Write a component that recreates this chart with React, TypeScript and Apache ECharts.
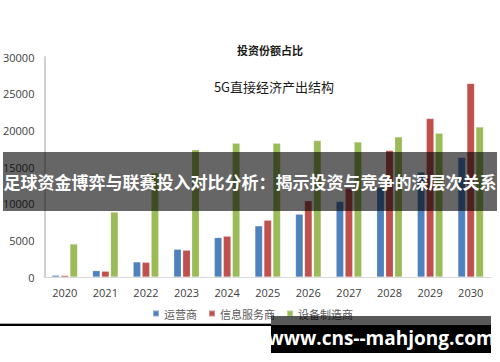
import React, { useEffect, useRef } from "react";
import * as echarts from "echarts";

const years = ["2020", "2021", "2022", "2023", "2024", "2025", "2026", "2027", "2028", "2029", "2030"];
const operators = [230, 860, 2050, 3780, 5370, 6970, 8560, 10300, 12200, 14300, 16300];
const infoServices = [200, 780, 2000, 3650, 5560, 7740, 10400, 12100, 17250, 21600, 26400];
const equipment = [4500, 8850, 14200, 17350, 18250, 18250, 18600, 18400, 19100, 19600, 20450];
const seriesNames = ["运营商", "信息服务商", "设备制造商"];
const colors = ["#4f81bd", "#c0504d", "#9bbb59"];

export default function App() {
  const ref = useRef<HTMLDivElement>(null);
  useEffect(() => {
    if (!ref.current) return;
    const chart = echarts.init(ref.current, null, { renderer: "svg" });
    const dataSets = [operators, infoServices, equipment];
    chart.setOption({
      animation: false,
      backgroundColor: "#ffffff",
      title: [
        {
          text: "投资份额占比",
          left: 265,
          top: 39,
          textAlign: "center",
          textStyle: { fontSize: 11, fontWeight: "bold", color: "#1a1a1a", fontFamily: "Noto Sans CJK SC" },
        },
        {
          text: "5G直接经济产出结构",
          left: 269,
          top: 75,
          textAlign: "center",
          textStyle: { fontSize: 13, fontWeight: "normal", color: "#1a1a1a", fontFamily: "Noto Sans CJK SC" },
        },
      ],
      legend: {
        data: seriesNames,
        left: 152,
        top: 308,
        padding: 0,
        itemWidth: 6,
        itemHeight: 6,
        itemGap: 11,
        icon: "rect",
        textStyle: { fontSize: 11, color: "#595959", fontFamily: "Noto Sans CJK SC" },
      },
      grid: { left: 42, right: 9, top: 57, bottom: 85, containLabel: false },
      xAxis: {
        type: "category",
        data: years,
        axisLine: { lineStyle: { color: "#d9d9d9", width: 1 } },
        axisTick: { show: false },
        axisLabel: { fontSize: 11, color: "#404040", margin: 10, fontFamily: "Open Sans" },
      },
      yAxis: {
        type: "value",
        min: 0,
        max: 30000,
        interval: 5000,
        axisLine: { show: true, lineStyle: { color: "#d0d0d0", width: 2 } },
        axisTick: { show: false },
        splitLine: { show: false },
        axisLabel: {
          fontSize: 11,
          color: "#404040",
          margin: 10,
          fontFamily: "Open Sans",
          formatter: (v: number) => String(v),
        },
      },
      series: dataSets.map((d, i) => ({
        name: seriesNames[i],
        type: "bar",
        data: d,
        barWidth: 7.5,
        barGap: "20%",
        itemStyle: { color: colors[i], borderColor: "rgba(255,255,255,0.35)", borderWidth: 0.5 },
      })),
      graphic: [
        {
          type: "rect",
          z: 100,
          shape: { x: 3, y: 152, width: 494, height: 59 },
          style: { fill: "rgba(0,0,0,0.6)" },
        },
        {
          type: "text",
          z: 101,
          x: 250,
          y: 181,
          style: {
            text: "足球资金博弈与联赛投入对比分析：揭示投资与竞争的深层次关系",
            fill: "#ffffff",
            fontSize: 17,
            fontWeight: "bold",
            fontFamily: "Noto Sans CJK SC",
            align: "center",
            verticalAlign: "middle",
          },
        },
        {
          type: "line",
          z: 100,
          shape: { x1: 0, y1: 325, x2: 271, y2: 325 },
          style: { stroke: "#000000", lineWidth: 2 },
        },
        {
          type: "line",
          z: 100,
          shape: { x1: 0, y1: 323.5, x2: 271, y2: 323.5 },
          style: { stroke: "#aaaaaa", lineWidth: 1 },
        },
        {
          type: "rect",
          z: 100,
          shape: { x: 271, y: 316, width: 220, height: 9 },
          style: { fill: "rgba(0,0,0,0.65)" },
        },
        {
          type: "rect",
          z: 100,
          shape: { x: 271, y: 325, width: 220, height: 28 },
          style: { fill: "#000000" },
        },
        {
          type: "text",
          z: 101,
          x: 381,
          y: 338,
          style: {
            text: "www.cns--mahjong.com",
            fill: "#ffffff",
            fontSize: 19,
            fontWeight: "bold",
            fontFamily: "Open Sans",
            align: "center",
            verticalAlign: "middle",
          },
        },
      ],
    });
    return () => chart.dispose();
  }, []);
  return (
    <div
      ref={ref}
      style={{ position: "absolute", left: 0, top: 0, width: 500, height: 362 }}
    />
  );
}
